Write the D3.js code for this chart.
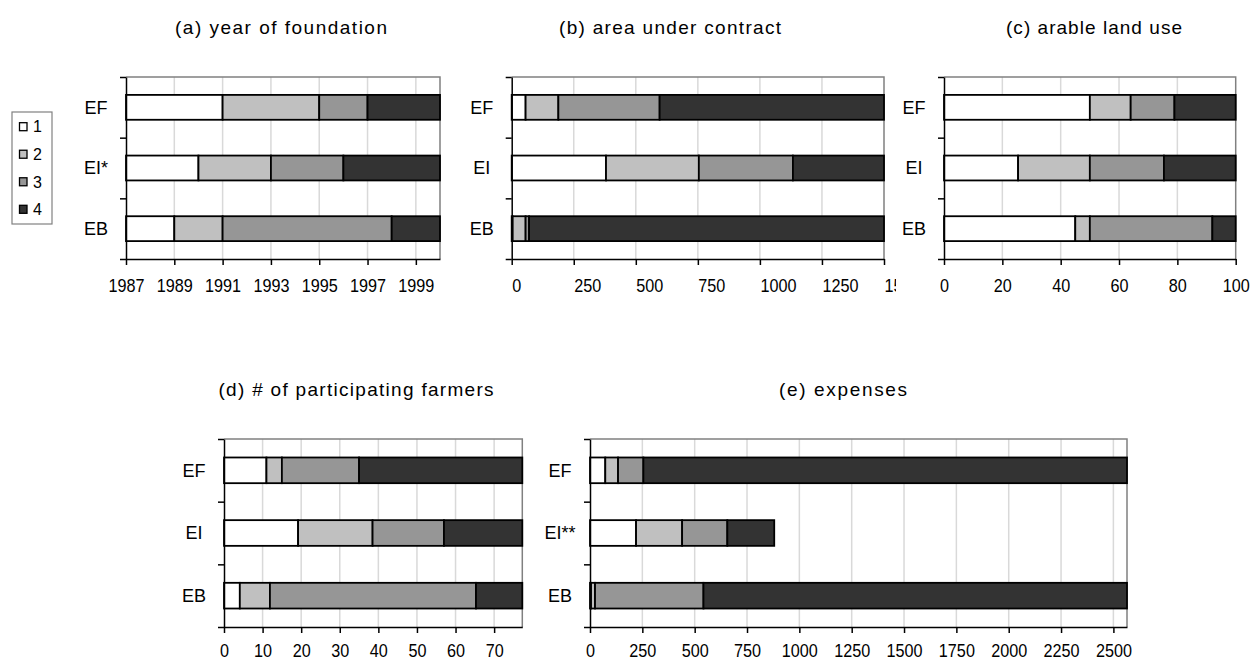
<!DOCTYPE html>
<html>
<head>
<meta charset="utf-8">
<script src="https://cdn.jsdelivr.net/npm/d3@7"></script>
<style>
  html, body { margin: 0; padding: 0; background: #fff; }
  svg { display: block; font-family: Arial, "Liberation Sans", Helvetica, sans-serif; }
</style>
</head>
<body>
<svg id="chart" width="1253" height="662"></svg>
<script>
// ---------- DATA ----------
const categories = ["EF", "EI", "EB"];
const seriesNames = ["1", "2", "3", "4"];

const labelsA = ["EF", "EI*", "EB"];
const labelsB = ["EF", "EI", "EB"];
const labelsC = ["EF", "EI", "EB"];
const labelsD = ["EF", "EI", "EB"];
const labelsE = ["EF", "EI**", "EB"];

// (a) year of foundation: bars start at 1987, segment lengths in years
const foundationStart = 1987;
const foundationEF = [4, 4, 2, 3];
const foundationEI = [3, 3, 3, 4];
const foundationEB = [2, 2, 7, 2];

// (b) area under contract
const areaEF = [56, 132, 408, 904];
const areaEI = [380, 374, 379, 367];
const areaEB = [4, 52, 14, 1430];

// (c) arable land use (%)
const arableEF = [50, 14, 15, 21];
const arableEI = [25.4, 24.6, 25.4, 24.6];
const arableEB = [45, 5, 42, 8];

// (d) # of participating farmers
const farmersEF = [11, 4, 20, 42.3];
const farmersEI = [19.2, 19.3, 18.5, 20.3];
const farmersEB = [4.1, 7.8, 53.4, 12];

// (e) expenses
const expensesEF = [73, 61, 121, 2310];
const expensesEI = [220, 220, 216, 224];
const expensesEB = [5, 19, 518, 2023];

// tick labels
const ticksA = [1987, 1989, 1991, 1993, 1995, 1997, 1999];
const ticksB = [0, 250, 500, 750, 1000, 1250, 1500];
const ticksC = [0, 20, 40, 60, 80, 100];
const ticksD = [0, 10, 20, 30, 40, 50, 60, 70];
const ticksE = [0, 250, 500, 750, 1000, 1250, 1500, 1750, 2000, 2250, 2500];

const titles = ["(a) year of foundation", "(b) area under contract", "(c) arable land use",
                "(d) # of participating farmers", "(e) expenses"];

// ---------- STYLE / LAYOUT ----------
const colors = ["#ffffff", "#c0c0c0", "#969696", "#333333"];

const panels = [
  { title: titles[0], labels: labelsA, base: foundationStart, rows: [foundationEF, foundationEI, foundationEB], ticks: ticksA,
    x0: 126, x1: 440, y0: 77, y1: 259, tx: 281, tw: 212, ty: 34, ly: 33 },
  { title: titles[1], labels: labelsB, base: 0, rows: [areaEF, areaEI, areaEB], ticks: ticksB,
    x0: 511.7, x1: 884, y0: 77, y1: 259, tx: 670, tw: 222, ty: 34, ly: 33, clipRight: 896 },
  { title: titles[2], labels: labelsC, base: 0, rows: [arableEF, arableEI, arableEB], ticks: ticksC,
    x0: 944, x1: 1235.7, y0: 77, y1: 259, tx: 1094, tw: 176, ty: 34, ly: 33 },
  { title: titles[3], labels: labelsD, base: 0, rows: [farmersEF, farmersEI, farmersEB], ticks: ticksD,
    x0: 224, x1: 522.3, y0: 439, y1: 627, tx: 356, tw: 275, ty: 396, ly: 30 },
  { title: titles[4], labels: labelsE, base: 0, rows: [expensesEF, expensesEI, expensesEB], ticks: ticksE,
    x0: 590, x1: 1127, y0: 439, y1: 627, tx: 843, tw: 128, ty: 396, ly: 30 }
];

const svg = d3.select("#chart");
const defs = svg.append("defs");

panels.forEach((p, pi) => {
  const totals = p.rows.map(r => d3.sum(r));
  const x = d3.scaleLinear().domain([p.base, p.base + d3.max(totals)]).range([p.x0, p.x1]);
  const y = d3.scaleBand().domain(categories).range([p.y0, p.y1]).paddingInner(0.59).paddingOuter(0.295);
  const yEdge = d3.scaleLinear().domain([0, categories.length]).range([p.y0, p.y1]);

  const g = svg.append("g");

  // title
  g.append("text")
    .attr("x", p.tx).attr("y", p.ty)
    .attr("text-anchor", "middle")
    .attr("font-size", 19)
    .attr("textLength", p.tw)
    .attr("lengthAdjust", "spacing")
    .attr("fill", "#000")
    .text(p.title);

  // gridlines
  g.append("g").selectAll("line")
    .data(p.ticks.filter(t => x(t) > p.x0 + 1 && x(t) < p.x1 - 1))
    .join("line")
    .attr("x1", d => x(d)).attr("x2", d => x(d))
    .attr("y1", p.y0).attr("y2", p.y1)
    .attr("stroke", "#d9d9d9").attr("stroke-width", 1.5);

  // plot border (top & right)
  g.append("path")
    .attr("d", `M${p.x0},${p.y0}H${p.x1}V${p.y1}`)
    .attr("fill", "none").attr("stroke", "#808080").attr("stroke-width", 1.5);

  // bars
  const stackRows = p.rows.map((r, ri) => {
    let acc = p.base;
    return r.map((v, si) => { const s = { cat: categories[ri], series: si, start: acc, end: acc + v }; acc += v; return s; });
  }).flat();

  g.append("g").selectAll("rect")
    .data(stackRows)
    .join("rect")
    .attr("x", d => x(d.start))
    .attr("width", d => Math.max(0, x(d.end) - x(d.start)))
    .attr("y", d => y(d.cat))
    .attr("height", y.bandwidth())
    .attr("fill", d => colors[d.series])
    .attr("stroke", "#000")
    .attr("stroke-width", 1.8);

  // category labels
  g.append("g").selectAll("text")
    .data(categories)
    .join("text")
    .attr("x", p.x0 - 30)
    .attr("y", d => y(d) + y.bandwidth() / 2)
    .attr("dy", "0.36em")
    .attr("text-anchor", "middle")
    .attr("font-size", 18)
    .attr("fill", "#000")
    .text((d, i) => p.labels[i]);

  // left axis (ticks at band edges)
  const leftAxis = g.append("g")
    .attr("transform", `translate(${p.x0},0)`)
    .call(d3.axisLeft(yEdge).tickValues(d3.range(categories.length + 1)).tickFormat("").tickSize(6).tickSizeOuter(0));
  leftAxis.select(".domain").attr("stroke", "#000").attr("stroke-width", 1.5);
  leftAxis.selectAll(".tick line").attr("stroke", "#000").attr("stroke-width", 1.5);

  // bottom axis
  const bottom = g.append("g")
    .attr("transform", `translate(0,${p.y1})`)
    .call(d3.axisBottom(x).tickValues(p.ticks).tickFormat(d3.format("d")).tickSize(6).tickSizeOuter(0));
  bottom.select(".domain").attr("stroke", "#000").attr("stroke-width", 1.5);
  bottom.selectAll(".tick line").attr("stroke", "#000").attr("stroke-width", 1.5);
  bottom.selectAll(".tick text")
    .attr("y", p.ly).attr("dy", 0)
    .attr("font-size", 18)
    .attr("font-family", "Arial, 'Liberation Sans', sans-serif")
    .attr("fill", "#000")
    .attr("transform", "scale(0.9,1)");

  if (p.clipRight) {
    const id = "clip" + pi;
    defs.append("clipPath").attr("id", id)
      .append("rect").attr("x", 0).attr("y", -20).attr("width", p.clipRight).attr("height", 80);
    const clipG = g.append("g").attr("transform", `translate(0,${p.y1})`).attr("clip-path", `url(#${id})`);
    bottom.selectAll(".tick").each(function () {
      const t = d3.select(this);
      const tr = t.attr("transform");
      const txt = t.select("text").remove();
      clipG.append("g").attr("transform", tr).append(() => txt.node());
    });
  }
});

// legend
const legend = svg.append("g");
legend.append("rect")
  .attr("x", 12).attr("y", 112).attr("width", 40).attr("height", 112)
  .attr("fill", "#fff").attr("stroke", "#808080").attr("stroke-width", 1.2);
const ly = d3.scalePoint().domain(seriesNames).range([126.7, 209.3]);
const li = legend.selectAll("g.item").data(seriesNames).join("g").attr("class", "item")
  .attr("transform", d => `translate(0,${ly(d)})`);
li.append("rect")
  .attr("x", 19.5).attr("y", -4).attr("width", 7.5).attr("height", 8)
  .attr("fill", (d, i) => colors[i]).attr("stroke", "#000").attr("stroke-width", 1.3);
li.append("text")
  .attr("x", 33).attr("y", 0).attr("dy", "0.36em")
  .attr("font-size", 16).attr("fill", "#000")
  .text(d => d);
</script>
</body>
</html>
